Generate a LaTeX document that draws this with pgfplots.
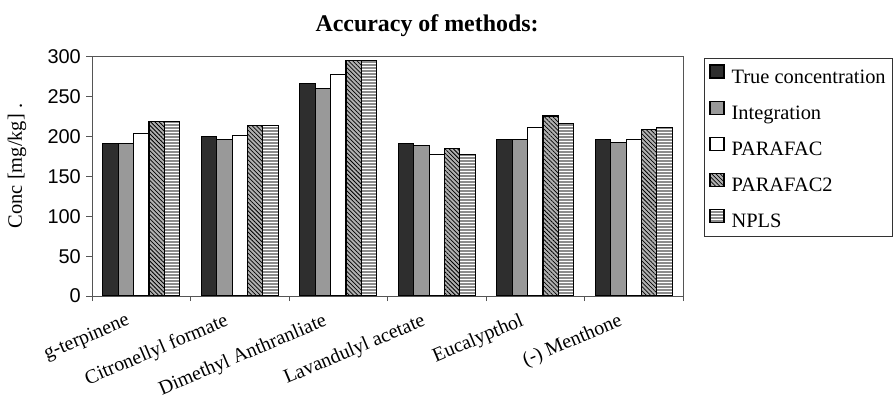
\documentclass[border=0pt]{standalone}
\usepackage{fontspec}
\setmainfont{Liberation Serif}
\newfontfamily\arialfont{Liberation Sans}
\usepackage{pgfplots}
\usepackage{pgfplotstable}
\pgfplotsset{compat=1.18}
\usetikzlibrary{patterns,patterns.meta}

\definecolor{truec}{HTML}{2E2E2E}
\definecolor{integ}{HTML}{999999}
\definecolor{hatchbg}{HTML}{B0B0B0}
\definecolor{stripebg}{HTML}{8C8C8C}
\definecolor{axisgray}{HTML}{555555}

% wide horizontal stripe tile, so that the stripes run on without seams
\pgfdeclarepatternformonly{hstripes}{\pgfpoint{-1bp}{-1bp}}{\pgfpoint{101bp}{4bp}}{\pgfpoint{100bp}{3bp}}{%
  \pgfsetlinewidth{1.4bp}%
  \pgfpathmoveto{\pgfpoint{-1bp}{1.5bp}}%
  \pgfpathlineto{\pgfpoint{101bp}{1.5bp}}%
  \pgfusepath{stroke}}

% concentrations in mg/kg for each compound (idx) and method
\pgfplotstableread{
idx true integ parafac parafac2 npls
0   191  191   204     219      219
1   200  197   201     214      214
2   267  261   278     296      296
3   191  189   178     185      178
4   197  197   211     226      217
5   196  193   196     209      211
}\conc

\begin{document}
\begin{tikzpicture}
\useasboundingbox (0,0) rectangle (895bp,404bp);
\begin{axis}[
  at={(92bp,108bp)}, anchor=south west,
  scale only axis, width=591bp, height=239bp,
  ybar=0pt, bar width=15.4bp,
  xmin=-0.5, xmax=5.5, ymin=0, ymax=300,
  axis line style={draw=axisgray, line width=1bp},
  tick align=outside,
  xtick={0,...,5},
  xticklabels={g-terpinene, Citronellyl formate, Dimethyl Anthranliate, Lavandulyl acetate, Eucalypthol, (-) Menthone},
  x tick label style={font=\fontsize{20}{24}\selectfont, xshift=-16bp, yshift=-10bp, rotate=23, anchor=north east, inner sep=0pt},
  major x tick style={draw=none},
  minor xtick={-0.5,0.5,...,5.5},
  minor x tick style={draw=axisgray, line width=1bp},
  minor tick length=5bp,
  major tick length=6bp,
  ytick={0,50,...,300},
  ytick pos=left, xtick pos=bottom,
  y tick style={draw=axisgray, line width=1bp},
  /pgf/number format/assume math mode=true,
  y tick label style={font=\arialfont\fontsize{20}{24}\selectfont, inner sep=0pt, xshift=-5bp},
  ylabel={Conc [mg/kg] .},
  every axis y label/.style={at={(axis description cs:0,0.544)}, xshift=-75bp, rotate=90, anchor=center, font=\fontsize{20.5}{24}\selectfont},
  title={Accuracy of methods:},
  every axis title/.style={at={(axis description cs:0.567,1)}, anchor=base, yshift=25bp, font=\bfseries\fontsize{24}{28}\selectfont},
  legend style={at={(1.0355,0.996)}, anchor=north west, draw=black!80, line width=1bp,
    font=\fontsize{20.5}{24}\selectfont, row sep=14bp, column sep=5bp, inner xsep=5bp, inner ysep=6bp},
  legend cell align=left,
  legend image code/.code={\draw[#1] (0bp,-1bp) rectangle (14bp,12bp);},
]
\addplot[draw=black, line width=1.1bp, fill=truec] table[x=idx, y=true] {\conc};
\addplot[draw=black, line width=1.1bp, fill=integ] table[x=idx, y=integ] {\conc};
\addplot[draw=black, line width=1.1bp, fill=white] table[x=idx, y=parafac] {\conc};
\addplot[draw=black, line width=1.1bp, fill=hatchbg,
  postaction={pattern={Lines[angle=-45, distance=3bp, line width=0.75bp]}, pattern color=black}]
  table[x=idx, y=parafac2] {\conc};
\addplot[draw=black, line width=1.1bp, fill=stripebg,
  postaction={pattern=hstripes, pattern color=white}]
  table[x=idx, y=npls] {\conc};
\legend{True concentration, Integration, PARAFAC, PARAFAC2, NPLS}
\end{axis}
\end{tikzpicture}
\end{document}
